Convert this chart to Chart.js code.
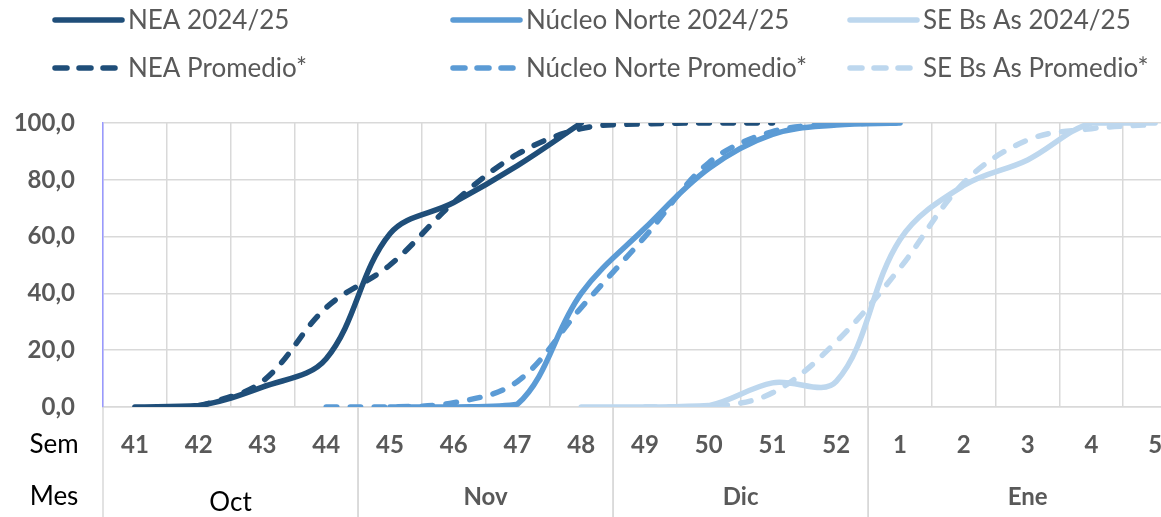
<!DOCTYPE html>
<html>
<head>
<meta charset="utf-8">
<script src="https://cdn.jsdelivr.net/npm/chart.js@4.4.1/dist/chart.umd.min.js"></script>
<style>
    html, body { margin: 0; padding: 0; background: #fff; overflow: hidden; }
    #wrap { width: 1161px; height: 517px; overflow: hidden; }
    canvas { display: block; }
</style>
</head>
<body>
<div id="wrap"><canvas id="siembra" width="1190" height="517"></canvas></div>
<script>
// semanas y meses del eje X
const weeks = ["41", "42", "43", "44", "45", "46", "47", "48", "49", "50", "51", "52", "1", "2", "3", "4", "5"];
const months = ["Oct", "Nov", "Dic", "Ene"];
const weeksPerMonth = [4, 4, 4, 5];

// avance de siembra (%)
const neaActual = [0, 0.5, 7, 17, 61, 72, 85, 100, null, null, null, null, null, null, null, null, null];
const neaPromedio = [null, 0, 9, 35, 50, 72, 89, 98, 99.7, 100, 100, null, null, null, null, null, null];
const nucleoActual = [null, null, null, null, 0, 0, 1, 40, 63, 84, 96, 99.3, 100, null, null, null, null];
const nucleoPromedio = [null, null, null, 0, 0, 1.5, 9, 35, 60, 86, 97, 99.5, 100, null, null, null, null];
const seActual = [null, null, null, null, null, null, null, 0, 0, 0.5, 8.5, 9, 59, 78, 87, 100, 100];
const sePromedio = [null, null, null, null, null, null, null, null, 0, 0, 5, 23, 49, 79, 94, 98, 99.5];

const DARK = "#1f4e79", MID = "#5b9bd5", LIGHT = "#bdd7ee";
const GRID = "#d9d9d9", TEXT = "#595959";
const DASH = [10.5, 13.5];

Chart.defaults.font.family = "Lato";

function serie(label, data, color, dashed) {
    return {
        label: label,
        data: data,
        borderColor: color,
        backgroundColor: color,
        borderWidth: 5.5,
        borderDash: dashed ? DASH : [],
        borderCapStyle: "round",
        borderJoinStyle: "round",
        pointRadius: 0,
        fill: false,
        tension: 0.36
    };
}

// leyenda en dos filas y tres columnas
const legendPlugin = {
    id: "grilla-leyenda",
    afterDraw(chart) {
        const ctx = chart.ctx;
        const colX = [52, 450, 847];
        const rowY = [20, 68];
        const order = [[0, 2, 4], [1, 3, 5]];
        ctx.save();
        ctx.font = "26px Lato";
        ctx.fillStyle = TEXT;
        ctx.textBaseline = "middle";
        order.forEach((row, r) => {
            row.forEach((di, c) => {
                const ds = chart.data.datasets[di];
                const x = colX[c], y = rowY[r];
                ctx.strokeStyle = ds.borderColor;
                ctx.lineWidth = 5.5;
                ctx.lineCap = "round";
                ctx.setLineDash(ds.borderDash.length ? [12, 12] : []);
                ctx.beginPath();
                ctx.moveTo(x + 3, y);
                ctx.lineTo(x + 70, y);
                ctx.stroke();
                ctx.setLineDash([]);
                ctx.fillText(ds.label, x + 76, y + 1);
            });
        });
        ctx.restore();
    }
};

// fila de meses y separadores debajo del eje
const monthPlugin = {
    id: "fila-meses",
    afterDraw(chart) {
        const ctx = chart.ctx;
        const xs = chart.scales.x;
        const area = chart.chartArea;
        const half = (xs.getPixelForValue(1) - xs.getPixelForValue(0)) / 2;
        ctx.save();
        ctx.strokeStyle = GRID;
        ctx.lineWidth = 1.5;
        let start = 0;
        months.forEach((m, i) => {
            const end = start + weeksPerMonth[i] - 1;
            const left = xs.getPixelForValue(start) - half;
            const right = xs.getPixelForValue(end) + half;
            ctx.beginPath();
            ctx.moveTo(left, area.bottom);
            ctx.lineTo(left, chart.height);
            ctx.moveTo(right, area.bottom);
            ctx.lineTo(right, chart.height);
            ctx.stroke();
            ctx.textAlign = "center";
            ctx.textBaseline = "middle";
            if (i === 0) {
                ctx.font = "26px Lato";
                ctx.fillStyle = "#000";
                ctx.fillText(m, (left + right) / 2, 503);
            } else {
                ctx.font = "bold 24px Lato";
                ctx.fillStyle = TEXT;
                ctx.fillText(m, (left + right) / 2, 497);
            }
            start = end + 1;
        });
        ctx.font = "26px Lato";
        ctx.fillStyle = "#000";
        ctx.fillText("Sem", 54, 445);
        ctx.fillText("Mes", 54, 497);
        ctx.restore();
    }
};

new Chart(document.getElementById("siembra").getContext("2d"), {
    type: "line",
    data: {
        labels: weeks,
        datasets: [
            serie("NEA 2024/25", neaActual, DARK, false),
            serie("NEA Promedio*", neaPromedio, DARK, true),
            serie("Núcleo Norte 2024/25", nucleoActual, MID, false),
            serie("Núcleo Norte Promedio*", nucleoPromedio, MID, true),
            serie("SE Bs As 2024/25", seActual, LIGHT, false),
            serie("SE Bs As Promedio*", sePromedio, LIGHT, true)
        ]
    },
    options: {
        responsive: false,
        animation: false,
        layout: { padding: { top: 123, left: 0, right: 3, bottom: 0 } },
        plugins: {
            legend: { display: false },
            tooltip: { enabled: false }
        },
        scales: {
            x: {
                offset: true,
                grid: { offset: true, color: GRID, lineWidth: 1.5, drawTicks: false },
                border: { color: GRID, width: 1.5 },
                ticks: { color: TEXT, padding: 24, maxRotation: 0, autoSkip: false, font: { size: 24, weight: "bold" } },
                afterFit(scale) { scale.height = 110; }
            },
            y: {
                min: 0,
                max: 100,
                grid: { color: GRID, lineWidth: 1.5, drawTicks: false },
                border: { color: "#9999ff", width: 1.5 },
                ticks: {
                    stepSize: 20,
                    color: TEXT,
                    padding: 28,
                    font: { size: 24, weight: "bold" },
                    callback: v => v.toFixed(1).replace(".", ",")
                },
                afterFit(scale) { scale.width = 103; }
            }
        }
    },
    plugins: [legendPlugin, monthPlugin]
});
</script>
</body>
</html>
